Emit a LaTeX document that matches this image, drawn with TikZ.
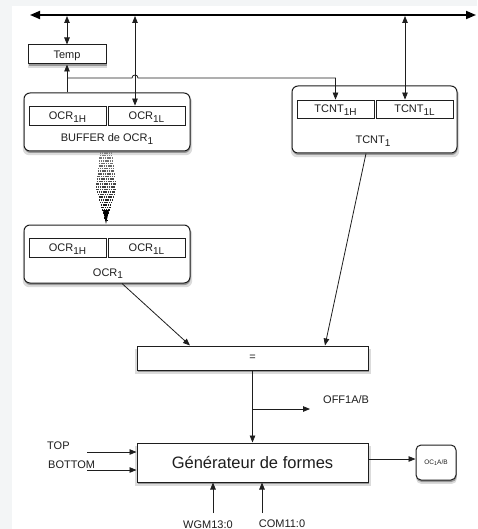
\documentclass[tikz,border=0pt]{standalone}
\usepackage{fontspec}
\setmainfont{Liberation Sans}
\usetikzlibrary{arrows.meta,shadows}
\definecolor{edgegray}{HTML}{F3F5F6}
\definecolor{ink}{HTML}{1E1E1E}
% lowered, slightly smaller index as used in register names
\newcommand\lowidx[1]{\raisebox{-0.5ex}{\fontsize{10}{11}\selectfont #1}}
\newcommand\tinyidx[1]{\raisebox{-0.45ex}{\fontsize{5.5}{6}\selectfont #1}}

\begin{document}
\begin{tikzpicture}[x=1pt,y=-1pt,
  every node/.style={font=\fontsize{11}{13}\selectfont, inner sep=0pt, text=ink},
  softshadow/.style={
    drop shadow={shadow xshift=0.5pt,shadow yshift=-2pt,opacity=.30,fill=black},
    drop shadow={shadow xshift=0.5pt,shadow yshift=-3.5pt,opacity=.14,fill=black,shadow scale=1.02}},
  regbox/.style={draw=ink, line width=0.8pt, fill=white, text height=8pt, text depth=0pt},
  unitbox/.style={draw=ink, line width=1pt, fill=white, rounded corners=6pt, softshadow},
  flatbox/.style={draw=ink, line width=1pt, fill=white, softshadow},
  conn/.style={draw=ink, line width=0.8pt},
  >={Triangle[length=7pt,width=5.5pt]},
  busline/.style={draw=black, line width=1.8pt, {Triangle[length=10pt,width=8pt]}-{Triangle[length=10pt,width=8pt]}},
  lbl/.style={anchor=base}
]
\useasboundingbox (0,0) rectangle (477,529);
% page background with light border strip
\fill[edgegray] (0,0) rectangle (477,529);
\fill[white] (12,6) rectangle (477,529);

% data bus
\coordinate (busW) at (30,15);
\coordinate (busE) at (476,15);
\draw[busline] (busW) -- (busE);
\coordinate (busOCR) at (135,15);
\coordinate (busTCNT) at (405,15);

% Temp register
\node[flatbox, minimum width=78pt, minimum height=19pt, text height=8pt, text depth=0pt] (temp) at (67,54.5) {Temp};

% output compare buffer
\node[unitbox, minimum width=166pt, minimum height=58pt] (buf) at (107,122) {};
\node[regbox, minimum width=77pt, minimum height=19pt] (bufH) at (67.5,115.5) {OCR\lowidx{1H}};
\node[regbox, minimum width=77pt, minimum height=19pt] (bufL) at (146.5,115.5) {OCR\lowidx{1L}};
\node[lbl] (bufT) at (107,142) {BUFFER de OCR\lowidx{1}};

% timer counter
\node[unitbox, minimum width=165pt, minimum height=67pt] (tcnt) at (374.5,119.5) {};
\node[regbox, minimum width=77pt, minimum height=18pt] (tH) at (335.5,109) {TCNT\lowidx{1H}};
\node[regbox, minimum width=77pt, minimum height=18pt] (tL) at (414.5,109) {TCNT\lowidx{1L}};
\node[lbl] (tcntT) at (373,144) {TCNT\lowidx{1}};

% output compare register
\node[unitbox, minimum width=166pt, minimum height=58pt] (ocr) at (107,254) {};
\node[regbox, minimum width=77pt, minimum height=19pt] (oH) at (67.5,247.5) {OCR\lowidx{1H}};
\node[regbox, minimum width=77pt, minimum height=19pt] (oL) at (146.5,247.5) {OCR\lowidx{1L}};
\node[lbl] (ocrT) at (108,276) {OCR\lowidx{1}};

% comparator
\node[flatbox, minimum width=231pt, minimum height=24pt] (eq) at (252.5,358) {=};

% waveform generator
\node[flatbox, minimum width=231pt, minimum height=39pt, font=\fontsize{16.5}{19}\selectfont, text height=11.8pt, text depth=0pt] (gen) at (252.5,462.5) {Générateur de formes};

% output pin
\node[unitbox, rounded corners=5pt, minimum width=40pt, minimum height=35pt, font=\fontsize{6.5}{7}\selectfont] (oc) at (436,462.5) {OC\tinyidx{1}A/B};

% bus transfers
\draw[conn, <->, shorten <=1pt] (temp.north |- busW) -- (temp.north);
\draw[conn, <->, shorten <=1pt] (busOCR) -- (busOCR |- bufL.north);
\draw[conn, <->, shorten <=1pt] (busTCNT) -- (busTCNT |- tL.north);

% buffer to Temp, Temp to TCNT high byte (hopping over the OCR bus line)
\coordinate (split) at (67,78);
\draw[conn, ->] (temp.south |- buf.north) -- (temp.south);
\draw[conn, ->] (split) -- (132,78) .. controls (132,74) and (138,74) .. (138,78) -- (tH.north |- split) -- (tH.north);

% buffered transfer OCR buffer -> OCR, drawn as a stippled wedge
\foreach \i in {0,...,26}{
  \pgfmathsetmacro\yy{153+2.6*\i}
  \pgfmathsetmacro\ww{\yy<188 ? 12+(\yy-153)/35*8 : 20*(224-\yy)/36}
  \pgfmathtruncatemacro\sh{50+50*\i/26}
  \draw[black!\sh, line width=1.6pt, dash pattern=on 1.2pt off 0.6pt] (106-\ww/2,\yy) -- (106+\ww/2,\yy);
}
\fill[black] (103,210) -- (109,210) -- (106,224) -- cycle;

% into the comparator
\draw[conn, ->] ([xshift=15pt]ocr.south) -- ([xshift=-62.5pt]eq.north);
\draw[conn, ->] ([xshift=-8.5pt]tcnt.south) -- ([xshift=72.5pt]eq.north);

% comparator to generator, with flag output
\draw[conn, ->] (eq.south) -- (gen.north);
\coordinate (flagA) at (252.5,409);
\coordinate (flagB) at (310,409);
\draw[conn, ->] (flagA) -- (flagB);
\node[anchor=base west] (flagT) at (323,403) {OFF1A/B};

% generator inputs
\node[anchor=base west] (topT) at (47,449) {TOP};
\node[anchor=base west] (botT) at (48,468) {BOTTOM};
\coordinate (topIn) at (87,452);
\coordinate (botIn) at (87,470);
\draw[conn, ->] (topIn) -- (topIn -| gen.west);
\draw[conn, ->] (botIn) -- (botIn -| gen.west);

\node[lbl] (wgmT) at (208,528) {WGM13:0};
\node[lbl] (comT) at (282,527) {COM11:0};
\coordinate (wgmIn) at (213,513);
\coordinate (comIn) at (262,513);
\draw[conn, ->] (wgmIn) -- (wgmIn |- gen.south);
\draw[conn, ->] (comIn) -- (comIn |- gen.south);

% generator to output pin
\coordinate (genOut) at (368,459);
\draw[conn, ->] (genOut) -- (genOut -| oc.west);
\end{tikzpicture}
\end{document}
